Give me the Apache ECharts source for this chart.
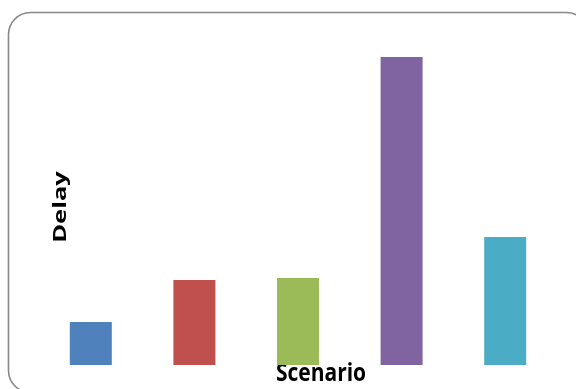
<!DOCTYPE html>
<html>
<head>
<meta charset="utf-8">
<script src="https://cdn.jsdelivr.net/npm/echarts@6/dist/echarts.min.js"></script>
<style>
  html, body { margin: 0; padding: 0; background: #ffffff; }
  #chart { width: 576px; height: 389px; }
</style>
</head>
<body>
<div id="chart"></div>
<script>
// Scenario delay values (arbitrary units, no scale shown)
const scenarios = ['1', '2', '3', '4', '5'];
const delays = [43, 85, 87, 308, 128];
const barColors = ['#4F81BD', '#C0504D', '#9BBB59', '#8064A2', '#4BACC6'];

const chart = echarts.init(document.getElementById('chart'), null, { renderer: 'canvas' });

chart.setOption({
  animation: false,
  backgroundColor: '#ffffff',
  grid: { left: 39, right: 19, top: 45, bottom: 24, containLabel: false },
  xAxis: {
    type: 'category',
    data: scenarios,
    axisLine: { show: false },
    axisTick: { show: false },
    axisLabel: { show: false },
    splitLine: { show: false }
  },
  yAxis: {
    type: 'value',
    min: 0,
    max: 320,
    axisLine: { show: false },
    axisTick: { show: false },
    axisLabel: { show: false },
    splitLine: { show: false }
  },
  series: [{
    type: 'bar',
    barWidth: 42,
    data: delays.map((v, i) => ({ value: v, itemStyle: { color: barColors[i] } }))
  }],
  graphic: [
    {
      type: 'rect',
      z: -1,
      shape: { x: 8.5, y: 12.5, width: 580, height: 380, r: 22 },
      style: { fill: 'none', stroke: '#888888', lineWidth: 1.6 }
    },
    {
      // y-axis title, stretched along its reading direction
      type: 'text',
      x: 61, y: 207,
      rotation: Math.PI / 2,
      scaleX: 1.5,
      style: {
        text: 'Delay',
        font: 'bold 17px "Open Sans", sans-serif',
        fill: '#000000',
        align: 'center',
        verticalAlign: 'middle'
      }
    },
    {
      // x-axis title
      type: 'text',
      x: 321, y: 374,
      scaleY: 1.2,
      style: {
        text: 'Scenario',
        font: 'bold 21px "Open Sans", sans-serif',
        fill: '#000000',
        align: 'center',
        verticalAlign: 'middle'
      }
    }
  ]
});
</script>
</body>
</html>
